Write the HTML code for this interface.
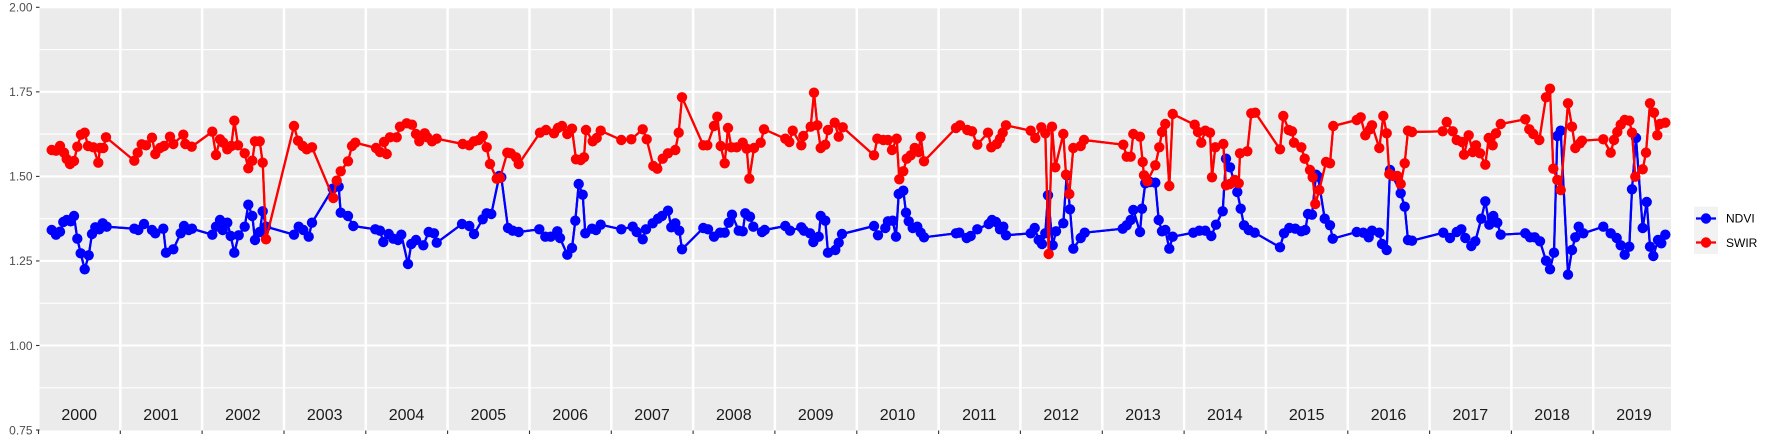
<!DOCTYPE html>
<html><head><meta charset="utf-8"><style>
html,body{margin:0;padding:0;background:#fff;}
svg{display:block;font-family:"Liberation Sans",Arial,sans-serif;}
</style></head><body>
<svg width="1773" height="442" viewBox="0 0 1773 442" xmlns="http://www.w3.org/2000/svg">
<defs>
<marker id="mb" markerWidth="12" markerHeight="12" refX="6" refY="6" markerUnits="userSpaceOnUse" overflow="visible"><circle cx="6" cy="6" r="5.2" fill="#0000ff"/></marker>
<marker id="mr" markerWidth="12" markerHeight="12" refX="6" refY="6" markerUnits="userSpaceOnUse" overflow="visible"><circle cx="6" cy="6" r="5.2" fill="#ff0000"/></marker>
</defs>
<rect x="0" y="0" width="1773" height="442" fill="#fff"/>
<rect x="39.5" y="6.5" width="1631.5" height="424" fill="#EBEBEB"/>
<g stroke="#fff" stroke-width="1.1">
<line x1="39.5" x2="1671" y1="49.6" y2="49.6"/><line x1="39.5" x2="1671" y1="134.1" y2="134.1"/><line x1="39.5" x2="1671" y1="218.7" y2="218.7"/><line x1="39.5" x2="1671" y1="303.2" y2="303.2"/><line x1="39.5" x2="1671" y1="387.8" y2="387.8"/>
</g>
<g stroke="#fff" stroke-width="2.1">
<line x1="39.5" x2="1671" y1="7.3" y2="7.3"/><line x1="39.5" x2="1671" y1="91.85" y2="91.85"/><line x1="39.5" x2="1671" y1="176.4" y2="176.4"/><line x1="39.5" x2="1671" y1="260.95" y2="260.95"/><line x1="39.5" x2="1671" y1="345.5" y2="345.5"/>
</g>
<g stroke="#fff" stroke-width="2.5">
<line x1="120.3" x2="120.3" y1="6.5" y2="430.5"/><line x1="202.1" x2="202.1" y1="6.5" y2="430.5"/><line x1="284" x2="284" y1="6.5" y2="430.5"/><line x1="365.8" x2="365.8" y1="6.5" y2="430.5"/><line x1="447.6" x2="447.6" y1="6.5" y2="430.5"/><line x1="529.5" x2="529.5" y1="6.5" y2="430.5"/><line x1="611.3" x2="611.3" y1="6.5" y2="430.5"/><line x1="693.1" x2="693.1" y1="6.5" y2="430.5"/><line x1="774.9" x2="774.9" y1="6.5" y2="430.5"/><line x1="856.8" x2="856.8" y1="6.5" y2="430.5"/><line x1="938.6" x2="938.6" y1="6.5" y2="430.5"/><line x1="1020.4" x2="1020.4" y1="6.5" y2="430.5"/><line x1="1102.3" x2="1102.3" y1="6.5" y2="430.5"/><line x1="1184.1" x2="1184.1" y1="6.5" y2="430.5"/><line x1="1265.9" x2="1265.9" y1="6.5" y2="430.5"/><line x1="1347.8" x2="1347.8" y1="6.5" y2="430.5"/><line x1="1429.6" x2="1429.6" y1="6.5" y2="430.5"/><line x1="1511.4" x2="1511.4" y1="6.5" y2="430.5"/><line x1="1593.2" x2="1593.2" y1="6.5" y2="430.5"/>
</g>
<!-- axis ticks -->
<g stroke="#333" stroke-width="1.1">
<line x1="36" x2="39.5" y1="7.3" y2="7.3"/><line x1="36" x2="39.5" y1="91.85" y2="91.85"/><line x1="36" x2="39.5" y1="176.4" y2="176.4"/><line x1="36" x2="39.5" y1="260.95" y2="260.95"/><line x1="36" x2="39.5" y1="345.5" y2="345.5"/><line x1="36" x2="39.5" y1="430" y2="430"/>
<line x1="38.5" x2="38.5" y1="430.5" y2="434"/><line x1="120.3" x2="120.3" y1="430.5" y2="434"/><line x1="202.1" x2="202.1" y1="430.5" y2="434"/><line x1="284" x2="284" y1="430.5" y2="434"/><line x1="365.8" x2="365.8" y1="430.5" y2="434"/><line x1="447.6" x2="447.6" y1="430.5" y2="434"/><line x1="529.5" x2="529.5" y1="430.5" y2="434"/><line x1="611.3" x2="611.3" y1="430.5" y2="434"/><line x1="693.1" x2="693.1" y1="430.5" y2="434"/><line x1="774.9" x2="774.9" y1="430.5" y2="434"/><line x1="856.8" x2="856.8" y1="430.5" y2="434"/><line x1="938.6" x2="938.6" y1="430.5" y2="434"/><line x1="1020.4" x2="1020.4" y1="430.5" y2="434"/><line x1="1102.3" x2="1102.3" y1="430.5" y2="434"/><line x1="1184.1" x2="1184.1" y1="430.5" y2="434"/><line x1="1265.9" x2="1265.9" y1="430.5" y2="434"/><line x1="1347.8" x2="1347.8" y1="430.5" y2="434"/><line x1="1429.6" x2="1429.6" y1="430.5" y2="434"/><line x1="1511.4" x2="1511.4" y1="430.5" y2="434"/><line x1="1593.2" x2="1593.2" y1="430.5" y2="434"/>
</g>
<g font-size="12" fill="#4d4d4d" text-anchor="end">
<text x="32.5" y="11.6">2.00</text><text x="32.5" y="96.1">1.75</text><text x="32.5" y="180.7">1.50</text><text x="32.5" y="265.2">1.25</text><text x="32.5" y="349.8">1.00</text><text x="32.5" y="434.3">0.75</text>
</g>
<g font-size="16" fill="#1a1a1a" text-anchor="middle">
<text x="79.2" y="420">2000</text><text x="161" y="420">2001</text><text x="242.9" y="420">2002</text><text x="324.7" y="420">2003</text><text x="406.5" y="420">2004</text><text x="488.4" y="420">2005</text><text x="570.2" y="420">2006</text><text x="652" y="420">2007</text><text x="733.8" y="420">2008</text><text x="815.7" y="420">2009</text><text x="897.5" y="420">2010</text><text x="979.3" y="420">2011</text><text x="1061.2" y="420">2012</text><text x="1143" y="420">2013</text><text x="1224.8" y="420">2014</text><text x="1306.7" y="420">2015</text><text x="1388.5" y="420">2016</text><text x="1470.3" y="420">2017</text><text x="1552.1" y="420">2018</text><text x="1634" y="420">2019</text>
</g>
<polyline id="ndvi" fill="none" stroke="#0000ff" stroke-width="2.2" stroke-linejoin="round" points="51.7,230 56,234.7 60,231.7 63.3,222 66.7,220 70.7,221.3 74,216 77.3,238.7 80.7,253.3 84.7,269.3 88.7,255.3 92,234 95.3,227.3 99.3,229.3 102.7,223.3 106.7,226.7 134.3,228.7 138.3,230 144,224 152,230 155.3,233.3 163.3,228.7 166,252.7 173.3,249.3 180.7,233.3 184,226 188.7,230 192,228.7 212.3,234.7 216,226.7 220,220 222.7,230 227.3,222.7 230.7,236 234.3,252.7 238.7,235.3 244.7,226.7 248.3,204.7 252.3,216 255,240 259.7,232 262.7,211.3 266,226.7 294,234.7 298.7,226.7 303.3,230 308.7,236.7 312,222.7 332.7,188.7 338.7,186.7 340.7,212.7 348,216 353.3,226 375.3,229.3 380,230.7 383.3,242 388.7,234 393.3,238.7 398,240 401.3,234.7 408,264 411.3,244 416,240 423.3,245.3 428.7,232 434,233.3 436.7,242.7 462,224 469.3,226 474,234 482.7,219.3 486.7,213.3 491.3,214 499.3,176 501.3,177.3 508,228 512.7,230.7 518.7,232 539.3,229.3 545.3,236.7 550.7,236.7 557.3,231.3 560,238 567.3,254.7 572,248 575.3,220.7 578.7,184 582.7,194.7 585.3,233.3 592,228.7 596,230 600.7,224.7 621.3,229.3 632.7,226.7 636.7,232 642.7,239.3 646,229.3 652.7,223.3 658,218.7 662,216 668,210.7 671.3,227.3 675.3,223.3 679.3,230.7 682,249.3 703.3,228 708,229.3 714,236.7 720,232.7 724.7,232.7 728.7,222.7 732,214.7 738.7,230.7 742.7,231.3 745.3,213.3 750,216.7 753.3,226.7 762,232 764.7,230 785.3,226 790,230.7 801.3,227.3 804,230.7 810,233.3 813.3,242 818.7,236.7 820.7,216 825.3,220.7 828,252.7 835.3,250 838.7,242.7 842,234 874,226 878,235.3 885.3,228 888,221.3 892.7,220.7 896,236.7 898.7,194 903.3,190.7 906,212.7 908.7,221.3 912.7,228 917.3,226.7 920.7,232.7 924,237.3 956,233.3 959.3,232.7 966.7,238 970.7,236 977.3,229.3 988.7,224 992,220 996,222 1000,229.3 1003.3,226.7 1006,235.3 1030.7,233.3 1034.7,228 1038.7,240 1042,244 1045.3,233.3 1048,195.3 1052.7,245.3 1056,231.3 1063.3,223.3 1066.7,175.3 1070,209.3 1073.3,248.7 1080.7,238 1084.7,232.7 1122.7,228.7 1126.7,225.3 1130.7,220 1133.3,210 1140,232 1142,208.7 1145.3,183.3 1150,182 1155.3,182.7 1158.7,220 1162,231.3 1165.3,230 1169.3,248.7 1172.7,236.7 1193.3,232.7 1199.3,230.7 1205.3,230.7 1211.3,236 1216,224.7 1222.7,211.3 1226,158.7 1230,167.3 1237.3,192 1240.7,208.7 1244,225.3 1248.7,230 1254.7,232.7 1280,247.3 1284,233.3 1289.3,228 1295.3,228.7 1301.3,231.3 1305.3,230 1308,214 1312,214.7 1316,174.7 1318,176.7 1324.7,218.7 1330,225.3 1332.7,238.7 1356.7,232 1363.3,232.7 1368.7,237.3 1372,230.7 1379.3,232.7 1382,244 1386.7,250 1390,170 1400.7,193.3 1404.7,206.7 1408,240 1412,240.7 1443.3,232.7 1450,238 1456.7,232 1461.3,229.3 1465.3,238 1471.3,246 1475.3,241.3 1481.3,218.7 1485.3,201.3 1489.3,224.7 1493.3,216 1497.3,222.7 1500.7,234.7 1525.3,233.3 1530,237.3 1534.7,237.3 1540,241.3 1546,260.7 1550,269.3 1554,252.7 1557.3,136 1560.7,130.7 1568,274.7 1572,250 1575.3,237.3 1578.7,226.7 1583.3,233.3 1603.3,226.7 1610.7,233.3 1616.7,238 1620.7,245.3 1624.7,254.7 1629.3,246.7 1632,189.3 1636,138 1642.7,228 1646.7,202 1650,246.7 1653.3,256 1658,240 1661.3,243.3 1665.3,234.7"/>
<polyline id="swir" fill="none" stroke="#ff0000" stroke-width="2.2" stroke-linejoin="round" points="51.7,150 56,150.7 60,146 64,152.7 66.7,159 70,164 74,161 77.3,146.7 81,134.7 84.7,132.7 88,146 93.3,147.3 98.3,162.7 100,148 103.3,148 106,137.3 134.3,160.7 137.7,152.7 141.7,144.3 146,145.3 152,137.7 155.3,154 160,148 164,146 170,136.7 173.3,144 183.3,134.7 185.3,144 191.7,146.7 212.3,131.7 216,155 220,139.3 223.3,142.7 227.3,149.3 231.3,146 234.3,120.7 238,145.3 244.7,153.3 248.3,168.3 252.3,160.7 255,141.3 259.7,141.3 262.7,162.7 266,239.3 294,126 298,140.7 302.7,146 306.7,149.3 312,147.3 333.3,198 336.7,180.7 340.7,171.3 348,161.3 352,146 355.3,142.7 376,148 380,152 386.7,154 384,142 390,137.3 396.7,137.3 400,126.7 406.7,123.3 412,124.7 416,134 419.3,141.3 424.7,133.3 427.3,137.3 432,141.3 436.7,138.7 462.7,144 469.3,145.3 474,141.3 478.7,140 482.7,136 486.7,147.3 490,164 496.7,178.7 500,178 507.3,152.7 510.7,153.3 516,157.3 518.7,164 540,132.7 546,130 554,133.3 558,128 562,126 567.3,134 572,128.7 576,159.3 580.7,160 584,157.3 586,130 592.7,141.3 596.7,138 600.7,130.7 621.3,140 631.3,139.3 642.7,129.3 646.7,139.3 653.3,166 657.3,168.7 662.7,158.7 668,153.3 675.3,150 678.7,132.7 682,97.3 703.3,145.3 707.3,145.3 714,126 717.3,116.7 720.7,146 724.7,163.3 728,128 731.3,147.3 736.7,147.3 742.7,142.7 746.7,148.7 749.3,178.7 754,148 760.7,142.7 764,129.3 785.3,138.7 789.3,142 792.7,130.7 801.3,145.3 803.3,136 810.7,126.7 814,92.7 817.3,125.3 820.7,148 825.3,144.7 828,130 834.7,122.7 838.7,136.7 842.7,127.3 874,155.3 877.3,138.7 883.3,140 888,140 892,150 896.7,138.7 899.3,179.3 903.3,171.3 906.7,158.7 910.7,155.3 914.7,148 918.7,152 920.7,136.7 924,161.3 956,128 960,125.3 967.3,130 972,131.3 977.3,144.7 988,132.7 991.3,147.3 996.7,144 1000,138.7 1002.7,132.7 1006,125.3 1030.7,130.7 1035.3,138 1041.3,127.3 1045.3,133.3 1048.7,254 1052,126.7 1055.3,167.3 1063.3,134 1066,174.7 1069.3,194 1073.3,148 1080.7,146 1084,140 1123.3,144.7 1126.7,156.7 1130.7,156.7 1133.3,134 1140,136.7 1142.7,162 1144,175.3 1147.3,181.3 1155.3,165.3 1159.3,147.3 1162,132 1165.3,124 1169.3,186 1172.7,114 1194.7,124.7 1198,132 1201.3,142.7 1205.3,130.7 1210,132.7 1212,177.3 1215.3,147.3 1223.3,144 1226,185.3 1230,184 1234.7,180 1238.7,183.3 1240,153.3 1247.3,151.3 1251.3,113.3 1255.3,112.7 1280,149.3 1283.3,116 1288.7,130 1292,131.3 1294,142.7 1301.3,147.3 1304.7,158.7 1310,170 1312.7,177.3 1315.3,204 1319.3,190 1326,162 1330,163.3 1333.3,126 1356.7,120 1360.7,117.3 1365.3,135.3 1370,129.3 1372,125.3 1379.3,148 1383.3,116 1386.7,133.3 1389.3,174 1393.3,176 1397.3,176 1400.7,184 1404.7,163.3 1408,130.7 1412,132 1442.7,131.3 1446.7,122 1452.7,131.3 1456.7,140 1462,142 1464,154.7 1468.7,135.3 1472.7,152 1476,145.3 1480,153.3 1485.3,164.7 1488.7,138 1492.7,145.3 1496,133.3 1500.7,124 1525.3,119.3 1529.3,129.3 1533.3,134 1539.3,140 1546,97.3 1550,88.7 1553.3,168.7 1557.3,180 1560.7,190 1568,103.3 1572,126.7 1575.3,148 1580,143.3 1582,140.7 1603.3,139.3 1610.7,152.7 1614,140 1617.3,132 1620.7,124.7 1624.7,120 1629.3,120.7 1632,132.7 1635.3,176.7 1642.7,169.3 1646,152.7 1650,103.3 1654,112.7 1657.3,135.3 1660,124 1665.3,122.7"/>
<use href="#ndvi" stroke="none" marker-start="url(#mb)" marker-mid="url(#mb)" marker-end="url(#mb)"/>
<use href="#swir" stroke="none" marker-start="url(#mr)" marker-mid="url(#mr)" marker-end="url(#mr)"/>
<!-- legend -->
<rect x="1694" y="206.7" width="24" height="47.3" fill="#F2F2F2"/>
<line x1="1696" x2="1716" y1="218.5" y2="218.5" stroke="#0000ff" stroke-width="2.2"/>
<circle cx="1706" cy="218.5" r="5.2" fill="#0000ff"/>
<line x1="1696" x2="1716" y1="242.5" y2="242.5" stroke="#ff0000" stroke-width="2.2"/>
<circle cx="1706" cy="242.5" r="5.2" fill="#ff0000"/>
<text x="1726" y="222.7" font-size="12" fill="#000">NDVI</text>
<text x="1726" y="246.9" font-size="12" fill="#000">SWIR</text>
</svg>
</body></html>
